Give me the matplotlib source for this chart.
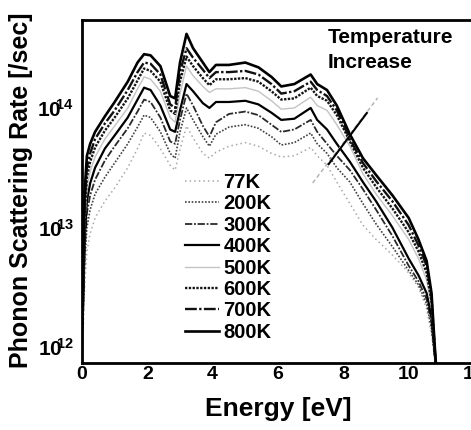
import numpy as np
import matplotlib
matplotlib.use("Agg")
import matplotlib.pyplot as plt
from matplotlib.ticker import FixedLocator, FuncFormatter, NullLocator

plt.rcParams['font.family'] = ['Liberation Sans', 'DejaVu Sans']
plt.rcParams['font.weight'] = 'bold'
plt.rcParams['mathtext.fontset'] = 'custom'
plt.rcParams['mathtext.rm'] = 'Liberation Sans:bold'
plt.rcParams['mathtext.bf'] = 'Liberation Sans:bold'

# ---------------- data (log10 of scattering rate in 1/s) ----------------
energy = [0.02, 0.08, 0.15, 0.25, 0.4, 0.7, 1.0, 1.4, 1.7, 1.9,
          2.1, 2.4, 2.7, 2.85, 3.0, 3.2, 3.4, 3.7, 3.9, 4.1,
          4.5, 5.0, 5.4, 5.8, 6.1, 6.5, 7.0, 7.2, 7.5, 7.8,
          8.2, 8.6, 9.0, 9.5, 10.0, 10.3, 10.55, 10.7, 10.8, 10.85]

labels = ["77K", "200K", "300K", "400K", "500K", "600K", "700K", "800K"]

log_77K = [12.0, 12.5, 12.8, 12.95, 13.08, 13.22, 13.33, 13.5, 13.66, 13.79,
           13.77, 13.66, 13.52, 13.48, 13.65, 13.85, 13.75, 13.62, 13.58, 13.63,
           13.68, 13.71, 13.68, 13.62, 13.59, 13.6, 13.67, 13.6, 13.52, 13.38,
           13.2, 13.02, 12.9, 12.77, 12.62, 12.5, 12.32, 12.1, 11.9, 11.8]
log_200K = [12.1, 12.7, 13.0, 13.15, 13.28, 13.42, 13.54, 13.7, 13.84, 13.94,
            13.92, 13.8, 13.62, 13.58, 13.8, 14.0, 13.9, 13.76, 13.68, 13.78,
            13.84, 13.86, 13.83, 13.76, 13.69, 13.71, 13.79, 13.7, 13.62, 13.5,
            13.38, 13.2, 13.03, 12.84, 12.64, 12.52, 12.36, 12.15, 11.92, 11.8]
log_300K = [12.15, 12.8, 13.12, 13.27, 13.4, 13.56, 13.68, 13.83, 13.97, 14.07,
            14.05, 13.92, 13.72, 13.7, 13.9, 14.12, 14.02, 13.85, 13.76, 13.88,
            13.95, 13.97, 13.94, 13.86, 13.8, 13.82, 13.9, 13.8, 13.7, 13.6,
            13.48, 13.32, 13.15, 12.93, 12.68, 12.55, 12.4, 12.2, 11.92, 11.8]
log_400K = [12.2, 12.9, 13.22, 13.37, 13.5, 13.66, 13.77, 13.92, 14.07, 14.17,
            14.15, 14.02, 13.82, 13.8, 13.98, 14.2, 14.14, 14.04, 14.0, 14.05,
            14.05, 14.06, 14.03, 13.96, 13.9, 13.91, 14.0, 13.9, 13.82, 13.7,
            13.55, 13.38, 13.22, 13.0, 12.74, 12.6, 12.45, 12.25, 11.93, 11.8]
log_500K = [12.25, 13.0, 13.33, 13.47, 13.59, 13.74, 13.85, 14.0, 14.16, 14.26,
            14.24, 14.14, 13.92, 13.88, 14.12, 14.35, 14.27, 14.18, 14.13, 14.16,
            14.16, 14.17, 14.14, 14.06, 13.99, 14.0, 14.09, 14.02, 13.98, 13.86,
            13.68, 13.45, 13.28, 13.1, 12.9, 12.74, 12.56, 12.33, 11.95, 11.8]
log_600K = [12.3, 13.1, 13.42, 13.55, 13.67, 13.81, 13.92, 14.08, 14.23, 14.33,
            14.31, 14.22, 13.98, 13.95, 14.22, 14.43, 14.35, 14.25, 14.19, 14.24,
            14.24, 14.25, 14.22, 14.14, 14.07, 14.08, 14.17, 14.1, 14.06, 13.94,
            13.72, 13.5, 13.34, 13.16, 12.96, 12.8, 12.62, 12.38, 11.97, 11.8]
log_700K = [12.35, 13.2, 13.5, 13.62, 13.74, 13.87, 13.98, 14.15, 14.3, 14.38,
            14.37, 14.28, 14.03, 14.0, 14.3, 14.5, 14.42, 14.32, 14.25, 14.3,
            14.3, 14.31, 14.28, 14.2, 14.12, 14.14, 14.22, 14.15, 14.1, 13.98,
            13.74, 13.54, 13.39, 13.22, 13.02, 12.85, 12.68, 12.42, 11.98, 11.8]
log_800K = [12.4, 13.3, 13.6, 13.7, 13.8, 13.93, 14.05, 14.22, 14.38, 14.45,
            14.44, 14.35, 14.1, 14.08, 14.38, 14.62, 14.5, 14.38, 14.3, 14.36,
            14.36, 14.38, 14.34, 14.26, 14.18, 14.2, 14.28, 14.2, 14.15, 14.02,
            13.78, 13.58, 13.44, 13.27, 13.08, 12.9, 12.72, 12.45, 12.0, 11.8]

series = [log_77K, log_200K, log_300K, log_400K, log_500K, log_600K, log_700K, log_800K]

# "Temperature increase" indicator line (energy, log10 rate)
arrow_E_light = [7.06, 9.05]
arrow_log_light = [13.372, 14.084]
arrow_E_dark = [7.55, 8.72]
arrow_log_dark = [13.53, 13.958]

xticks = [0, 2, 4, 6, 8, 10, 12]
ytick_exps = [12, 13, 14]

# ---------------- styles ----------------
styles = [
    dict(color='#a8a8a8', ls=(0, (1, 2)), lw=1.1),
    dict(color='#404040', ls=(0, (1, 1)), lw=1.2),
    dict(color='#2a2a2a', ls=(0, (4, 1, 1, 1)), lw=1.3),
    dict(color='#000000', ls='-', lw=1.6),
    dict(color='#c4c4c4', ls='-', lw=1.0),
    dict(color='#151515', ls=(0, (1, 0.6)), lw=1.7),
    dict(color='#101010', ls=(0, (5, 1, 1, 1)), lw=1.7),
    dict(color='#000000', ls='-', lw=1.9),
]

W, H = 471, 430
fig = plt.figure(figsize=(W / 100, H / 100), dpi=100)
ax = fig.add_axes([82 / W, 67 / H, 392 / W, 343 / H])

for vals, lab, st in zip(series, labels, styles):
    ax.semilogy(energy, np.power(10.0, vals), label=lab, **st)

ax.plot(arrow_E_light, np.power(10.0, arrow_log_light), color='#b0b0b0', lw=1.0, ls=(0, (3, 2)))
ax.plot(arrow_E_dark, np.power(10.0, arrow_log_dark), color='black', lw=1.5)

ax.set_xlim(0, 12)
ax.set_ylim(10 ** 11.866, 10 ** 14.736)
ax.xaxis.set_major_locator(FixedLocator(xticks))
ax.yaxis.set_major_locator(FixedLocator([10.0 ** e for e in ytick_exps]))
ax.yaxis.set_minor_locator(NullLocator())
ax.yaxis.set_major_formatter(FuncFormatter(lambda v, p: r'$\mathbf{10^{\!\!%d}}$' % round(np.log10(v))))
ax.tick_params(axis='y', length=0, labelsize=15, pad=6)
ax.tick_params(axis='x', length=0, labelsize=14, pad=2)
for lbl in ax.get_xticklabels():
    lbl.set_fontweight('bold')
for sp in ax.spines.values():
    sp.set_linewidth(2.0)

ax.set_xlabel('Energy [eV]', fontsize=19, fontweight='bold', labelpad=10)
ax.set_ylabel('Phonon Scattering Rate [/sec]', fontsize=18, fontweight='bold')
ax.yaxis.set_label_coords((33 - 82) / 392, 0.5 - (185 - 186.5) / 343)

fig.text(328 / W, (H - 43) / H, 'Temperature', fontsize=15, fontweight='bold', va='baseline')
fig.text(328 / W, (H - 68) / H, 'Increase', fontsize=15, fontweight='bold', va='baseline')

leg = ax.legend(loc='upper left', bbox_to_anchor=(185 / W, (H - 173) / H),
                bbox_transform=fig.transFigure, frameon=False,
                prop=dict(weight='bold', size=14.5), handlelength=1.7,
                handletextpad=0.2, labelspacing=0.12, borderpad=0, borderaxespad=0)

fig.savefig('out.png', dpi=100)
